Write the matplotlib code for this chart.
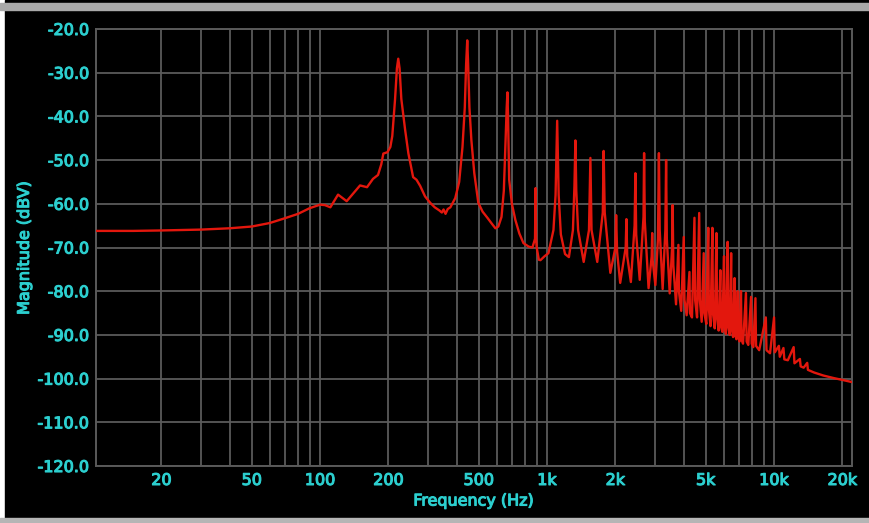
import matplotlib
matplotlib.use("Agg")
import matplotlib.pyplot as plt
import matplotlib.patheffects as pe
from matplotlib.patches import Rectangle
from matplotlib.ticker import FixedLocator, NullFormatter

# spectrum trace (Hz, dBV)
freq_hz = [
    10.3, 15, 20, 30, 40, 50, 60, 70, 80, 90, 100, 105, 111, 120, 131, 150,
    161, 171, 180, 186, 190, 198, 204, 208, 214, 218, 221, 224, 228, 237,
    245, 257, 266, 276, 290, 306, 320, 335, 344, 350, 357, 365, 375, 394,
    410, 424, 434, 440, 445, 449, 455, 464, 478, 498, 520, 546, 570, 592,
    610, 630, 645, 655, 664, 669, 673, 681, 700, 725, 755, 787, 830, 862,
    885, 890, 895, 900, 920, 935, 975, 1014, 1067, 1090, 1108, 1125, 1150,
    1200, 1248, 1300, 1320, 1333, 1345, 1370, 1450, 1530, 1552, 1570, 1664,
    1760, 1775, 1795, 1900, 2000, 2015, 2035, 2100, 2220, 2237, 2255, 2340,
    2430, 2450, 2470, 2560, 2660, 2676, 2695, 2800, 2890, 2905, 2920, 3000,
    3080, 3110, 3135, 3230, 3320, 3345, 3370, 3470, 3555, 3575, 3600, 3700,
    3790, 3810, 3900, 4000, 4030, 4120, 4240, 4260, 4350, 4460, 4490, 4580,
    4680, 4710, 4800, 4900, 4930, 5030, 5130, 5160, 5250, 5350, 5380, 5480,
    5575, 5610, 5700, 5800, 5830, 5920, 6020, 6050, 6140, 6245, 6280, 6380,
    6470, 6510, 6600, 6700, 6740, 6830, 6920, 6960, 7050, 7150, 7190, 7300,
    7520, 7570, 7700, 7920, 7970, 8100, 8280, 8330, 8600, 9200, 9260, 9600,
    10000, 10070, 10500, 10600, 11000, 11100, 11500, 12200, 12300, 13000,
    13100, 13500, 14000, 14100, 15000, 16500, 18400, 20000, 22050,
]
level_dbv = [
    -66.2, -66.2, -66.1, -65.9, -65.6, -65.2, -64.4, -63.3, -62.3, -61.0,
    -60.2, -60.3, -60.8, -57.9, -59.4, -55.8, -56.2, -54.3, -53.4, -51.0,
    -48.5, -48.2, -47.0, -44.5, -36.0, -29.0, -26.8, -29.0, -36.0, -43.1,
    -48.5, -53.9, -54.5, -55.9, -58.3, -59.8, -60.8, -61.5, -62.0, -61.3,
    -62.3, -61.2, -60.8, -58.7, -55.0, -47.0, -38.0, -28.0, -22.6, -28.0,
    -38.0, -45.4, -53.0, -59.8, -61.8, -63.2, -64.5, -65.6, -65.2, -63.0,
    -57.0, -47.0, -38.0, -34.5, -40.0, -54.5, -60.0, -63.7, -66.8, -69.0,
    -69.8, -70.0, -68.0, -56.4, -68.0, -70.0, -72.8, -72.9, -72.0, -71.3,
    -66.0, -58.0, -41.0, -58.0, -67.0, -71.5, -72.2, -66.0, -56.0, -45.5,
    -57.0, -66.0, -73.3, -66.0, -49.5, -66.0, -73.3, -62.0, -47.9, -62.0,
    -75.8, -70.0, -62.6, -71.0, -78.1, -70.0, -63.5, -72.0, -77.9, -65.0,
    -53.0, -67.0, -77.4, -63.0, -48.4, -64.0, -79.3, -72.0, -66.7, -73.0,
    -78.6, -68.0, -48.4, -66.0, -79.5, -66.0, -50.0, -68.0, -80.5, -70.0,
    -60.3, -74.0, -83.0, -69.4, -80.0, -84.5, -67.6, -82.0, -85.5, -75.6,
    -85.0, -86.0, -63.2, -82.0, -86.0, -62.1, -82.0, -87.0, -71.3, -85.0,
    -87.5, -65.5, -84.0, -88.0, -65.5, -85.0, -88.5, -66.7, -86.0, -89.0,
    -75.2, -88.0, -89.3, -72.0, -88.0, -89.8, -68.7, -88.0, -90.0, -71.3,
    -88.5, -90.5, -77.0, -90.0, -91.0, -80.0, -90.5, -91.5, -80.0, -91.0,
    -92.0, -80.4, -91.5, -92.3, -81.3, -92.0, -92.8, -81.6, -92.5, -93.5,
    -86.0, -93.5, -94.2, -86.0, -94.0, -92.5, -95.0, -93.0, -95.6, -95.8,
    -92.8, -96.5, -95.5, -97.2, -97.5, -96.4, -98.0, -98.6, -99.3, -99.9,
    -100.3, -100.8,
]

x_ticks = [20, 50, 100, 200, 500, 1000, 2000, 5000, 10000, 20000]
x_tick_labels = ["20", "50", "100", "200", "500", "1k", "2k", "5k", "10k", "20k"]
x_grid_minor = [30, 40, 60, 70, 80, 90, 300, 400, 600, 700, 800, 900,
                3000, 4000, 6000, 7000, 8000, 9000]
y_ticks = [-120, -110, -100, -90, -80, -70, -60, -50, -40, -30, -20]

cyan = "#2ccfcf"
grid_col = "#5a5a5a"
W, H = 869, 523

fig = plt.figure(figsize=(W / 100, H / 100), dpi=100, facecolor="white")
# window frame: black panel with grey strips top and bottom
fig.patches.append(Rectangle((5 / W, 0), 1 - 5 / W, 1, transform=fig.transFigure,
                             color="black", zorder=-3))
fig.patches.append(Rectangle((0, 1 - 10 / H), 1, 7 / H, transform=fig.transFigure,
                             color="#a9a9a9", zorder=-2))
fig.patches.append(Rectangle((0, 0), 1, 5 / H, transform=fig.transFigure,
                             color="#b5b5b5", zorder=-2))

ax = fig.add_axes([96 / W, 1 - 466 / H, (852 - 96) / W, (466 - 29) / H])
ax.set_facecolor("black")
ax.set_xscale("log")
ax.set_xlim(10.3, 22050)
ax.set_ylim(-120, -20)

ax.plot(freq_hz, level_dbv, color="#e3170d", lw=1.7, zorder=3)

ax.xaxis.set_major_locator(FixedLocator(x_ticks))
ax.xaxis.set_minor_locator(FixedLocator(x_grid_minor))
ax.xaxis.set_minor_formatter(NullFormatter())
ax.set_xticklabels(x_tick_labels)
ax.set_yticks(y_ticks)
ax.set_yticklabels([f"{v:.1f}" for v in y_ticks])

ax.grid(True, which="both", color=grid_col, lw=1.3)
ax.set_axisbelow(True)
for s in ax.spines.values():
    s.set_color(grid_col)
    s.set_linewidth(1.4)

thick = [pe.withStroke(linewidth=0.8, foreground=cyan)]
ax.tick_params(which="both", length=0, colors=cyan, labelsize=11.5)
ax.tick_params(axis="x", pad=5)
ax.tick_params(axis="y", pad=5)
for lab in ax.get_xticklabels() + ax.get_yticklabels():
    lab.set_path_effects(thick)

ax.set_xlabel("Frequency (Hz)", color=cyan, fontsize=11.5, labelpad=4,
              path_effects=thick)
ax.set_ylabel("Magnitude (dBV)", color=cyan, fontsize=11.5, labelpad=4,
              path_effects=thick)

fig.savefig("out.png", dpi=100, facecolor=fig.get_facecolor())
